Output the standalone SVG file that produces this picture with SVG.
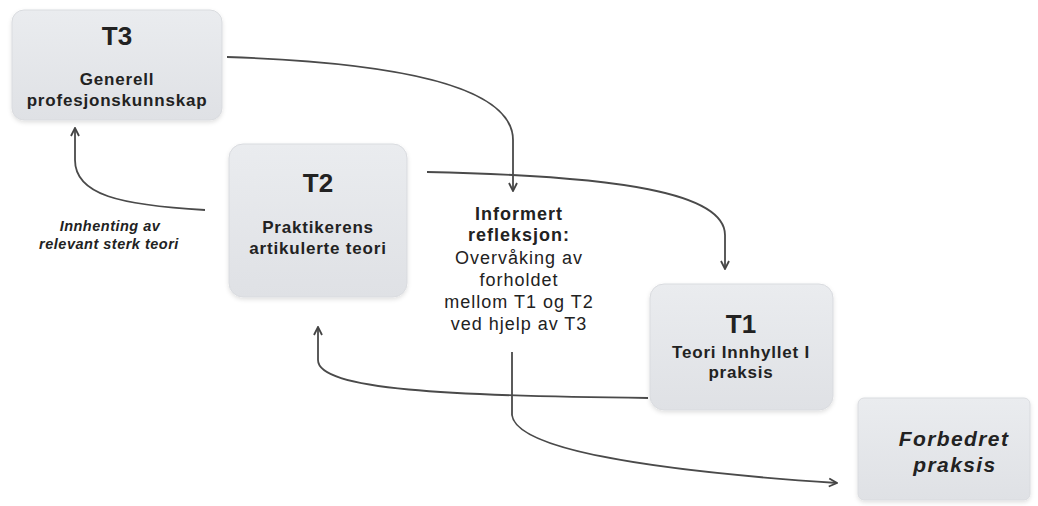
<svg xmlns="http://www.w3.org/2000/svg" width="1038" height="506" viewBox="0 0 1038 506">
<style>
.box{fill:url(#g);stroke:#d9dbdf;stroke-width:1;filter:url(#sh)}
.t{font-family:"Liberation Sans",Arial,sans-serif;fill:#222;text-anchor:middle}
.title{font-size:26px;font-weight:bold}
.lbl{font-size:17px;font-weight:bold;letter-spacing:0.8px}
.mid{font-size:18px;letter-spacing:1px}
.midb{font-size:18px;font-weight:bold;letter-spacing:1px}
.it{font-size:14.5px;font-weight:bold;font-style:italic;letter-spacing:0.5px}
.fb{font-size:21px;font-weight:bold;font-style:italic;letter-spacing:1.4px}
.c{fill:none;stroke:#4a4a4a;stroke-width:1.8}
</style>
<defs>
<linearGradient id="g" x1="0" y1="0" x2="0" y2="1">
<stop offset="0" stop-color="#eaecef"/>
<stop offset="1" stop-color="#dfe1e5"/>
</linearGradient>
<filter id="sh" x="-10%" y="-10%" width="120%" height="125%">
<feDropShadow dx="0" dy="2" stdDeviation="2" flood-color="#000" flood-opacity="0.12"/>
</filter>
<marker id="arr" viewBox="0 0 10 10" refX="9" refY="5" markerWidth="10" markerHeight="10" orient="auto" markerUnits="userSpaceOnUse">
<path d="M1,1 L9,5 L1,9" fill="none" stroke="#444" stroke-width="1.8"/>
</marker>
</defs>
<rect width="1038" height="506" fill="#fff"/>
<g id="T3">
<rect class="box" x="12" y="10" width="210" height="110" rx="12"/>
<text class="t title" x="117" y="45">T3</text>
<text class="t lbl" x="117" y="85">Generell</text>
<text class="t lbl" x="117" y="106">profesjonskunnskap</text>
</g>
<g id="T2">
<rect class="box" x="229" y="144" width="178" height="153" rx="14"/>
<text class="t title" x="318" y="192">T2</text>
<text class="t lbl" x="318" y="233">Praktikerens</text>
<text class="t lbl" x="318" y="254">artikulerte teori</text>
</g>
<g id="T1">
<rect class="box" x="650" y="284" width="183" height="126" rx="14"/>
<text class="t title" x="741" y="333">T1</text>
<text class="t lbl" x="741" y="358">Teori Innhyllet I</text>
<text class="t lbl" x="741" y="378">praksis</text>
</g>
<g id="forbedret">
<rect class="box" x="858" y="398" width="172" height="102" rx="6"/>
<text class="t fb" x="954" y="446">Forbedret</text>
<text class="t fb" x="955" y="472">praksis</text>
</g>
<g id="refleksjon">
<text class="t midb" x="519" y="220">Informert</text>
<text class="t midb" x="519" y="241">refleksjon:</text>
<text class="t mid" x="519" y="264">Overvåking av</text>
<text class="t mid" x="519" y="286">forholdet</text>
<text class="t mid" x="519" y="308">mellom T1 og T2</text>
<text class="t mid" x="519" y="330">ved hjelp av T3</text>
</g>
<g id="innhenting">
<text class="t it" x="110" y="231">Innhenting av</text>
<text class="t it" x="109" y="249">relevant sterk teori</text>
</g>
<g id="connectors">
<path class="c" d="M227,57 C380,62 513,82 513,140 L513,191" marker-end="url(#arr)"/>
<path class="c" d="M427,172 C620,176 725,193 725,235 L725,269" marker-end="url(#arr)"/>
<path class="c" d="M205,210 C120,205 75,195 75,160 L75,128" marker-end="url(#arr)"/>
<path class="c" d="M648,398 C450,396 318,390 318,360 L318,327" marker-end="url(#arr)"/>
<path class="c" d="M512,352 L512,415 C516,448 640,470 837,483" marker-end="url(#arr)"/>
</g>
</svg>
